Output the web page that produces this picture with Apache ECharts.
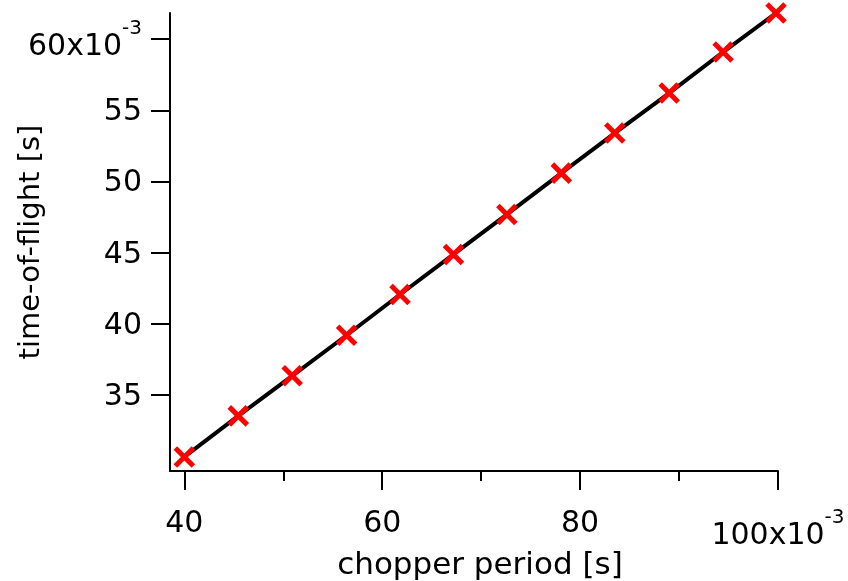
<!DOCTYPE html>
<html>
<head>
<meta charset="utf-8">
<script src="https://cdn.jsdelivr.net/npm/echarts@6/dist/echarts.min.js"></script>
<style>html,body{margin:0;padding:0;background:#fff}#c{width:848px;height:581px}</style>
</head>
<body>
<div id="c"></div>
<script>
const choppers = [40.0, 45.45, 50.9, 56.4, 61.8, 67.2, 72.6, 78.1, 83.5, 89.0, 94.45, 99.8];
const tofs = [30.67, 33.55, 36.36, 39.21, 42.07, 44.88, 47.69, 50.59, 53.4, 56.21, 59.09, 61.83];
const xMajorTicks = [40, 60, 80, 100];
const xMinorTicks = [50, 70, 90];
const yTicks = [35, 40, 45, 50, 55, 60];
const xTitle = 'chopper period [s]';
const yTitle = 'time-of-flight [s]';

const FONT = 'DejaVu Sans';
const rich = {
  m: {fontFamily: FONT, fontSize: 30, color: '#000', verticalAlign: 'bottom', lineHeight: 34},
  s: {fontFamily: FONT, fontSize: 20, color: '#000', verticalAlign: 'top', lineHeight: 46, padding: [3, 0, 0, 0]}
};

const chart = echarts.init(document.getElementById('c'));
chart.setOption({
  animation: false,
  backgroundColor: '#fff',
  grid: {left: 170, right: 70, top: 13, bottom: 110, outerBoundsMode: 'none', containLabel: false},
  xAxis: [{
    type: 'value', min: 38.55, max: 100,
    axisLine: {show: true, lineStyle: {color: '#000', width: 2}},
    axisTick: {show: true, customValues: xMajorTicks, length: 19, lineStyle: {color: '#000', width: 2}},
    axisLabel: {
      customValues: xMajorTicks, margin: 34, color: '#000', fontFamily: FONT, fontSize: 30,
      formatter: v => v === 100 ? '{m|100x10}{s|-3}' : '{m|' + v + '}',
      rich: rich
    },
    splitLine: {show: false},
    name: xTitle, nameLocation: 'middle', nameGap: 79, nameMoveOverlap: false,
    nameTextStyle: {fontFamily: FONT, fontSize: 31, color: '#000', padding: [0, 0, 0, 12]}
  }, {
    type: 'value', min: 38.55, max: 100, position: 'bottom',
    axisLine: {show: false},
    axisTick: {show: true, customValues: xMinorTicks, length: 10, lineStyle: {color: '#000', width: 2}},
    axisLabel: {show: false},
    splitLine: {show: false}
  }],
  yAxis: {
    type: 'value', min: 29.68, max: 61.83,
    axisLine: {show: true, lineStyle: {color: '#000', width: 2}},
    axisTick: {show: true, customValues: yTicks, length: 19, lineStyle: {color: '#000', width: 2}},
    axisLabel: {
      customValues: yTicks, margin: 28, color: '#000', fontFamily: FONT, fontSize: 30,
      formatter: v => v === 60 ? '{m|60x10}{s|-3}' : '{m|' + v + '}',
      rich: rich
    },
    splitLine: {show: false},
    name: yTitle, nameLocation: 'middle', nameGap: 124, nameMoveOverlap: false,
    nameTextStyle: {fontFamily: FONT, fontSize: 29, color: '#000'}
  },
  series: [{
    type: 'line',
    data: choppers.map((x, i) => [x, tofs[i]]),
    clip: false,
    lineStyle: {color: '#000', width: 4},
    symbol: 'path://M0,0L16,16M16,0L0,16',
    symbolSize: 18,
    showSymbol: true,
    itemStyle: {color: '#ff0000', borderColor: '#ff0000', borderWidth: 5},
    emphasis: {disabled: true}
  }]
});
</script>
</body>
</html>
